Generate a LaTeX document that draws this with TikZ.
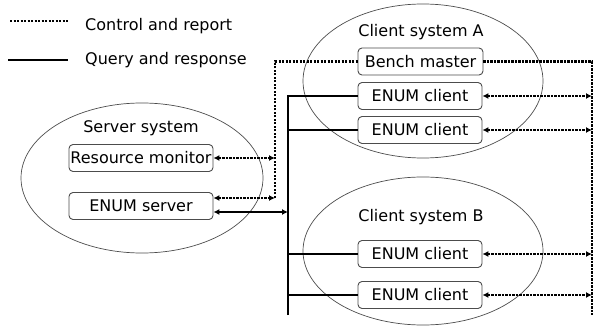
\documentclass[tikz,border=0pt]{standalone}
\usepackage{fontspec}
\setmainfont{DejaVu Sans}
\usepackage{xcolor}
\usepackage{tikz}
\usetikzlibrary{arrows.meta,shapes.geometric}

\begin{document}
\begin{tikzpicture}[x=1pt,y=-1pt,
  every node/.style={font=\fontsize{16}{19}\selectfont,inner sep=0pt},
  unit/.style={draw=black!70,line width=0.9pt,fill=white,rounded corners=4pt,minimum height=27pt},
  sys/.style={draw=black!70,line width=0.7pt,ellipse},
  ctl/.style={line width=2.2pt,dash pattern=on 2.2pt off 1.3pt},
  qry/.style={line width=2.2pt},
  tips/.style={{Latex[length=6pt,width=6pt]}-{Latex[length=6pt,width=6pt]}}]
\useasboundingbox (0,0) rectangle (595,326);
% legend
\coordinate (ctl key) at (10,21);
\coordinate (qry key) at (8,60);
\draw[ctl] (ctl key) -- ++(58,0);
\draw[qry] (qry key) -- ++(60,0);
\node[anchor=base west] (ctl text) at (85,31) {Control and report};
\node[anchor=base west] (qry text) at (85,65) {Query and response};
% systems
\node[sys,minimum width=242pt,minimum height=150pt] (server sys) at (142,178) {};
\node[sys,minimum width=240pt,minimum height=154pt] (client a sys) at (423,81) {};
\node[sys,minimum width=240pt,minimum height=148pt] (client b sys) at (423,251) {};
\node[anchor=base] (server label) at (141,133) {Server system};
\node[anchor=base] (client a label) at (421,37) {Client system A};
\node[anchor=base] (client b label) at (421,222) {Client system B};
% units
\node[unit,minimum width=144pt] (monitor) at (141,158) {Resource monitor};
\node[unit,minimum width=144pt] (server) at (141,206) {ENUM server};
\node[unit,minimum width=125pt] (bench) at (420.5,61.5) {Bench master};
\node[unit,minimum width=124pt] (client a1) at (420,96) {ENUM client};
\node[unit,minimum width=124pt] (client a2) at (420,130) {ENUM client};
\node[unit,minimum width=124pt] (client b1) at (420,254) {ENUM client};
\node[unit,minimum width=124pt] (client b2) at (420,295) {ENUM client};
% buses
\coordinate (ctl bus) at (275,198);
\coordinate (report bus) at (592,315);
\coordinate (query bus) at (288,315);
\coordinate (server ctl) at ([yshift=8pt]server.east);
\coordinate (server qry) at ([yshift=-6pt]server.east);
\draw[ctl] (ctl bus) -- (ctl bus |- bench.west) -- (bench.west);
\draw[ctl] (bench.east) -- (bench.east -| report bus) -- (report bus);
\draw[qry] (query bus) -- (query bus |- client a1.west) -- (client a1.west);
\draw[ctl,tips] (monitor.east) -- (monitor.east -| ctl bus);
\draw[ctl,tips] (server ctl) -- (server ctl -| ctl bus);
\draw[qry,tips] (server qry) -- (server qry -| query bus);
\draw[ctl,tips] (client a1.east) -- (client a1.east -| report bus);
\foreach \c in {client a2,client b1,client b2} {
  \draw[qry] (\c.west -| query bus) -- (\c.west);
  \draw[ctl,tips] (\c.east) -- (\c.east -| report bus);
}
\end{tikzpicture}
\end{document}
